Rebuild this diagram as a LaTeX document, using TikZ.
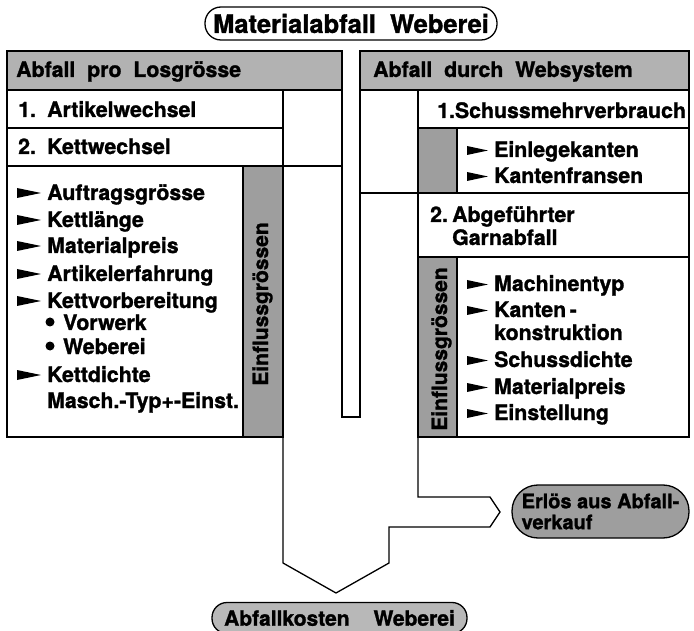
\documentclass[tikz,border=0pt]{standalone}
\usepackage{fontspec}
\setmainfont{TeX Gyre Heros}[BoldFeatures={FakeBold=1.3}]
\definecolor{hdr}{gray}{0.70}
\definecolor{colg}{gray}{0.62}
\definecolor{ovl}{gray}{0.62}
\definecolor{ovlb}{gray}{0.72}
\begin{document}
\begin{tikzpicture}[x=1pt,y=-1pt, line join=miter,
  ln/.style={line width=1.3pt},
  txt/.style={font=\fontsize{21.3}{24}\selectfont\bfseries, inner sep=0pt, anchor=base west},
  vtxt/.style={font=\fontsize{21}{24}\selectfont\bfseries, inner sep=0pt, anchor=base, rotate=90},
  oval/.style={draw, line width=1.3pt, inner sep=0pt},
  tri/.pic={\fill (0,-2)--(0,-12)--(24,-7)--cycle;},
  tris/.pic={\fill (0,-2)--(0,-11)--(21,-6.5)--cycle;},
]
\useasboundingbox (0,0) rectangle (694,631);

% fills
\fill[hdr] (7,51) rectangle (342,90);
\fill[hdr] (360,51) rectangle (689,90);
\fill[colg] (243,166) rectangle (283,437);
\fill[colg] (418,128) rectangle (457,193);
\fill[colg] (418,257) rectangle (457,437);

% left panel
\draw[ln] (7,51) rectangle (342,90);
\draw[ln] (7,90) rectangle (283,128);
\draw[ln] (7,128) rectangle (283,166);
\draw[ln] (283,90) rectangle (342,166);
\draw[ln] (7,166) rectangle (283,437);
\draw[ln] (243,166) -- (243,437);
\draw[ln] (342,166) -- (342,417) -- (360,417) -- (360,193);

% right panel
\draw[ln] (360,51) rectangle (689,90);
\draw[ln] (360,90) rectangle (418,193);
\draw[ln] (418,90) rectangle (689,128);
\draw[ln] (418,128) rectangle (689,193);
\draw[ln] (457,128) -- (457,193);
\draw[ln] (418,193) rectangle (689,257);
\draw[ln] (418,257) rectangle (689,437);
\draw[ln] (457,257) -- (457,437);

% flow arrow
\draw[ln] (283,437) -- (283,563) -- (336,593) -- (389,563) -- (389,527)
  -- (490,527) -- (500,512) -- (490,497) -- (418,497) -- (418,437);

% ovals
\node[oval, fill=white, rounded corners=16pt, minimum width=292pt, minimum height=33pt,
  font=\fontsize{25.5}{28}\selectfont\bfseries] (title) at (351,23.5) {Materialabfall~ Weberei};
\node[oval, fill=ovl, rounded corners=26pt, minimum width=177pt, minimum height=53pt,
  align=left, font=\fontsize{20}{21}\selectfont\bfseries] (erloes) at (600.5,511.5) {Erlös aus Abfall-\\verkauf};
\node[oval, fill=ovlb, rounded corners=15pt, minimum width=255pt, minimum height=31pt,
  font=\fontsize{21}{24}\selectfont\bfseries] (kosten) at (339.5,618) {Abfallkosten\hspace{24pt}Weberei};

% headers and rows
\node[txt] (lhd) at (16,77) {Abfall~ pro~ Losgrösse};
\node[txt] (rhd) at (373,77) {Abfall~ durch~ Websystem};
\node[txt] (a1) at (18,117) {\makebox[29pt][l]{1.}Artikelwechsel};
\node[txt] (a2) at (18,154) {\makebox[29pt][l]{2.}Kettwechsel};
\node[txt] (s1) at (437,118) {1.Schussmehrverbrauch};
\node[txt] (s2) at (430,222) {\makebox[22pt][l]{2.}Abgeführter};
\node[txt] (s2b) at (452,245) {Garnabfall};

% left list
\foreach \yy/\lbl [count=\i] in {200/Auftragsgrösse,227/Kettlänge,253/Materialpreis,281/Artikelerfahrung,308/Kettvorbereitung,382/Kettdichte} {
  \pic at (17,\yy) {tri};
  \node[txt] (li\i) at (47,\yy) {\lbl};
}
\foreach \yy/\lbl [count=\i] in {330/Vorwerk,354/Weberei} {
  \fill (50,\yy-8) circle (4.5);
  \node[txt] (lb\i) at (63,\yy) {\lbl};
}
\node[txt] (lm) at (47,408) {Masch.-Typ+-Einst.};

% right lists
\foreach \yy/\lbl [count=\i] in {157/Einlegekanten,183/Kantenfransen} {
  \pic at (467,\yy) {tris};
  \node[txt] (ra\i) at (494,\yy) {\lbl};
}
\foreach \yy/\lbl [count=\i] in {291/Machinentyp,317/{Kanten\,-},367/Schussdichte,394/Materialpreis,420/Einstellung} {
  \pic at (467,\yy) {tris};
  \node[txt] (rb\i) at (494,\yy) {\lbl};
}
\node[txt] (rk) at (494,340) {konstruktion};

% vertical labels
\node[vtxt] (ein1) at (268,304) {Einflussgrössen};
\node[vtxt] (ein2) at (447,349) {Einflussgrössen};
\end{tikzpicture}
\end{document}
